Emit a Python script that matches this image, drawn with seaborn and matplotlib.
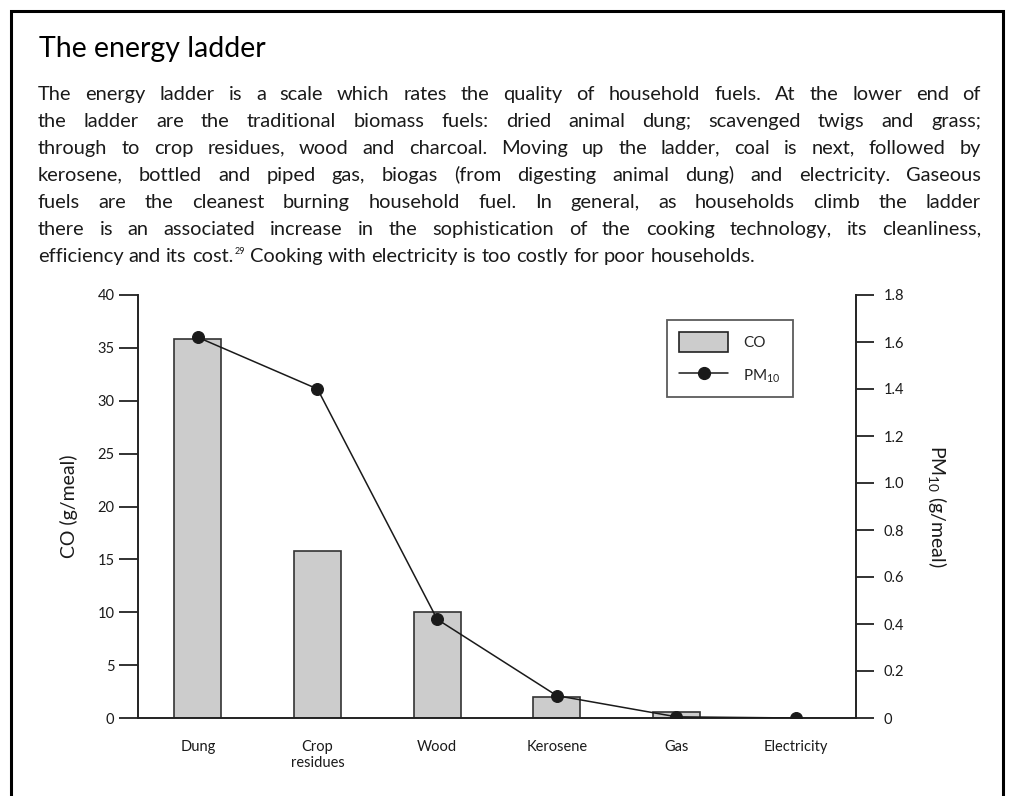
import numpy as np
import pandas as pd
import matplotlib
matplotlib.use("Agg")
import matplotlib.pyplot as plt
from matplotlib import font_manager
from matplotlib.lines import Line2D
from matplotlib.patches import Patch, Rectangle
from matplotlib.backends.backend_agg import get_hinting_flag
import seaborn as sns

##################################  DATA  #####################################

fuels = ["Dung", "Crop\nresidues", "Wood", "Kerosene", "Gas", "Electricity"]
co_values = [35.8, 15.8, 10.0, 2.0, 0.6, 0.0]          # g/meal, left axis
pm10_values = [1.62, 1.40, 0.42, 0.095, 0.005, 0.0]    # g/meal, right axis

co_ticks = [0, 5, 10, 15, 20, 25, 30, 35, 40]
pm_ticks = [0, 0.2, 0.4, 0.6, 0.8, 1.0, 1.2, 1.4, 1.6, 1.8]
pm_tick_labels = ["0", "0.2", "0.4", "0.6", "0.8", "1.0", "1.2", "1.4", "1.6", "1.8"]

title = "The energy ladder"
body_lines = [
    "The energy ladder is a scale which rates the quality of household fuels. At the lower end of",
    "the ladder are the traditional biomass fuels: dried animal dung; scavenged twigs and grass;",
    "through to crop residues, wood and charcoal. Moving up the ladder, coal is next, followed by",
    "kerosene, bottled and piped gas, biogas (from digesting animal dung) and electricity. Gaseous",
    "fuels are the cleanest burning household fuel. In general, as households climb the ladder",
    "there is an associated increase in the sophistication of the cooking technology, its cleanliness,",
    "efficiency and its cost.^29 Cooking with electricity is too costly for poor households.",
]

##################################  STYLE  ####################################

W, H = 1012, 796

def pick_font(names):
    """Return the first installed family from names."""
    have = {f.name for f in font_manager.fontManager.ttflist}
    for n in names:
        if n in have:
            return n
    return "DejaVu Sans"

sns.set_theme(style="white")
FONT = pick_font(["Lato", "Open Sans", "DejaVu Sans"])
plt.rcParams["font.family"] = [FONT, "DejaVu Sans"]
plt.rcParams["mathtext.fontset"] = "custom"
plt.rcParams["mathtext.rm"] = FONT
plt.rcParams["mathtext.it"] = FONT
plt.rcParams["mathtext.default"] = "rm"

INK = "#1a1a1a"

def px(x, y):
    """pixel position (from top-left) -> figure fraction"""
    return x / W, 1 - y / H

def baseline_error(renderer, t):
    """Pixels by which Agg draws the baseline of text t below where it was asked for."""
    try:
        font = renderer._prepare_font(t.get_fontproperties())
        font.set_text(t.get_text(), 0, flags=get_hinting_flag())
        h26 = font.get_width_height()[1]
        d26 = font.get_descent()
        d = d26 / 64.0
        return round(d) - (h26 // 64) + ((h26 - d26) // 64)
    except Exception:
        return 0

def draw_justified(fig, lines, x0, x1, y0, dy, size):
    """One text per word, justified between x0 and x1 (pixels); last line left aligned."""
    r = fig.canvas.get_renderer()
    probe = fig.text(0, 0, "a a", fontsize=size)
    probe1 = fig.text(0, 0, "aa", fontsize=size)
    space = probe.get_window_extent(r).width - probe1.get_window_extent(r).width
    probe.remove()
    probe1.remove()
    for i, line in enumerate(lines):
        y = y0 + i * dy
        items = []
        for w in line.split(" "):
            if "^" in w:
                base, sup = w.split("^")
                t1 = fig.text(0, 0, base, fontsize=size, color=INK, va="baseline")
                t2 = fig.text(0, 0, sup, fontsize=size * 0.45, color=INK, va="baseline")
                w1 = t1.get_window_extent(r).width
                w2 = t2.get_window_extent(r).width
                items.append(([(t1, 0, 0), (t2, w1 + 1, -8)], w1 + w2 + 1))
            else:
                t = fig.text(0, 0, w, fontsize=size, color=INK, va="baseline")
                items.append(([(t, 0, 0)], t.get_window_extent(r).width))
        total = sum(w for _, w in items)
        gap = space if i == len(lines) - 1 else (x1 - x0 - total) / (len(items) - 1)
        x = x0
        for parts, w in items:
            for t, dx, dyy in parts:
                e = baseline_error(r, t)
                t.set_position(px(x + dx, y + dyy - e))
            x += w + gap

##################################  FIGURE  ###################################

fig = plt.figure(figsize=(W / 100, H / 100), dpi=100)
fig.patch.set_facecolor("white")

# outer frame (bottom edge runs off the page)
fig.patches.append(Rectangle(px(11, 820), (1003 - 11) / W, (820 - 11) / H,
                             transform=fig.transFigure, fill=False,
                             edgecolor="black", linewidth=2.2))

fig.text(*px(39, 57), title, fontsize=20.5, color="black", va="baseline")
draw_justified(fig, body_lines, 38, 981, 100, 27, 14.4)

l, r_, t, b = 138, 856, 295, 718
ax = fig.add_axes([l / W, 1 - b / H, (r_ - l) / W, (b - t) / H])

df = pd.DataFrame({"fuel": fuels, "CO": co_values, "PM10": pm10_values})
sns.barplot(data=df, x="fuel", y="CO", ax=ax, color="#cccccc",
            edgecolor="#333333", linewidth=1.2, width=0.39, saturation=1)
ax.set_ylim(0, 40)
ax.set_xlim(-0.5, 5.5)
ax.set_yticks(co_ticks)
ax.set_xlabel("")
ax.set_ylabel("CO (g/meal)", fontsize=14, color=INK, labelpad=14)

ax2 = ax.twinx()
sns.pointplot(data=df, x="fuel", y="PM10", ax=ax2, color=INK,
              markers="o", markersize=8.5, linewidth=1.1)
ax2.set_ylim(0, 1.8)
ax2.set_xlim(-0.5, 5.5)
ax2.set_yticks(pm_ticks)
ax2.set_yticklabels(pm_tick_labels)
ax2.set_xlabel("")
ax2.set_ylabel(r"PM$_{10}$ (g/meal)", fontsize=14, color=INK, rotation=-90,
               labelpad=16, va="bottom")

for a in (ax, ax2):
    for s in a.spines.values():
        s.set_color("#222222")
        s.set_linewidth(1.4)
    a.spines["top"].set_visible(False)
ax.spines["right"].set_visible(False)
ax2.spines["left"].set_visible(False)
ax2.spines["bottom"].set_visible(False)

ax.tick_params(axis="y", which="major", left=True, length=14, width=1.3,
               color="#222222", pad=3, labelsize=10.5, labelcolor=INK)
ax.tick_params(axis="x", bottom=False, pad=10, labelsize=10.5, labelcolor=INK)
ax2.tick_params(axis="y", right=True, length=13, width=1.3, color="#222222",
                pad=7, labelsize=10.5, labelcolor=INK)

handles = [Patch(facecolor="#cccccc", edgecolor="#222222", linewidth=1.2),
           Line2D([0], [0], color=INK, marker="o", markersize=8.5, linewidth=1.1)]
leg = ax2.legend(handles, ["CO", r"PM$_{10}$"], loc="upper left",
                 bbox_to_anchor=px(667, 320), bbox_transform=fig.transFigure,
                 borderaxespad=0, fontsize=11, frameon=True, fancybox=False,
                 handlelength=3.2, handleheight=1.6, labelspacing=0.9,
                 borderpad=0.8, handletextpad=1.0)
leg.get_frame().set_edgecolor("#333333")
leg.get_frame().set_linewidth(1.3)

fig.savefig("out.png", dpi=100)
